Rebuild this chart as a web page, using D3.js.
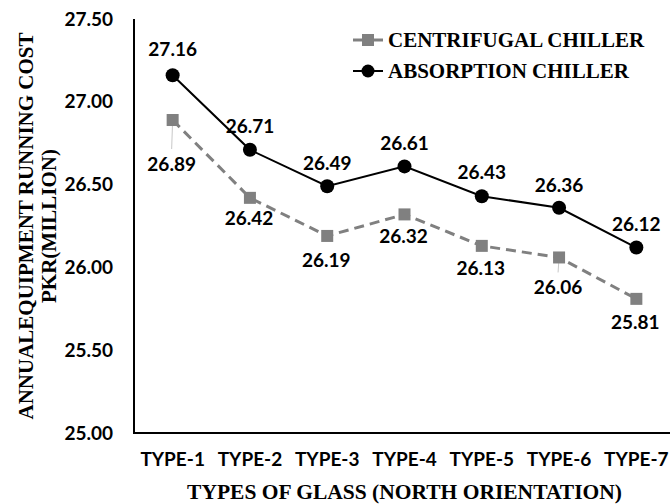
<!DOCTYPE html>
<html>
<head>
<meta charset="utf-8">
<script src="https://cdn.jsdelivr.net/npm/d3@7"></script>
<style>
  html, body { margin: 0; padding: 0; background: #fff; }
  svg { display: block; }
</style>
</head>
<body>
<svg id="chart" width="670" height="504"></svg>
<script>
// Glass types along the x axis
const categories = ["TYPE-1", "TYPE-2", "TYPE-3", "TYPE-4", "TYPE-5", "TYPE-6", "TYPE-7"];
// Annual equipment running cost, PKR million
const centrifugal = [26.89, 26.42, 26.19, 26.32, 26.13, 26.06, 25.81];
const absorption  = [27.16, 26.71, 26.49, 26.61, 26.43, 26.36, 26.12];
const yTicks = [25.00, 25.50, 26.00, 26.50, 27.00, 27.50];
const seriesNames = ["CENTRIFUGAL CHILLER", "ABSORPTION CHILLER"];

// label placement (px below marker for centrifugal, above for absorption)
const centrifugalLabelGap = [51, 27, 31, 29, 29, 37, 30];
const absorptionLabelGap  = [19, 17, 16, 16, 17, 16, 17];

const svg = d3.select("#chart");
const plot = { left: 134, right: 675, top: 19, bottom: 433 };

const x = d3.scaleBand().domain(categories).range([plot.left, plot.right]);
const y = d3.scaleLinear().domain([25, 27.5]).range([plot.bottom, plot.top]);
const cx = d => x(d) + x.bandwidth() / 2;

const numFont = "Lato, 'Open Sans', sans-serif";
const numSize = 19;
const serif = "'Liberation Serif', 'Times New Roman', serif";
const grey = "#808080";

// Y axis
const yAxis = d3.axisLeft(y).tickValues(yTicks).tickSize(0).tickPadding(21)
  .tickFormat(d3.format(".2f"));
const gy = svg.append("g").attr("transform", `translate(${plot.left},0)`).call(yAxis);
gy.select(".domain").attr("stroke", "#000").attr("stroke-width", 2)
  .attr("d", `M0,${plot.top}V${plot.bottom}`);
gy.selectAll("text").attr("font-family", numFont).attr("font-weight", "bold")
  .attr("font-size", numSize).attr("fill", "#000");

// X axis
const xAxis = d3.axisBottom(x).tickSize(0).tickPadding(20);
const gx = svg.append("g").attr("transform", `translate(0,${plot.bottom})`).call(xAxis);
gx.select(".domain").attr("stroke", "#000").attr("stroke-width", 2)
  .attr("d", `M${plot.left - 1},0H${plot.right}`);
gx.selectAll("text").attr("font-family", numFont).attr("font-weight", "bold")
  .attr("font-size", numSize).attr("fill", "#000");

// Axis titles
svg.append("text").attr("x", (plot.left + plot.right) / 2).attr("y", 499)
  .attr("text-anchor", "middle").attr("font-family", serif).attr("font-weight", "bold")
  .attr("font-size", 21.5).text("TYPES OF GLASS (NORTH ORIENTATION)");

const yMid = (plot.top + plot.bottom) / 2;
svg.append("text").attr("transform", `translate(33,${yMid}) rotate(-90)`)
  .attr("text-anchor", "middle").attr("font-family", serif).attr("font-weight", "bold")
  .attr("font-size", 21).text("ANNUALEQUIPMENT RUNNING COST");
svg.append("text").attr("transform", `translate(56,${yMid}) rotate(-90)`)
  .attr("text-anchor", "middle").attr("font-family", serif).attr("font-weight", "bold")
  .attr("font-size", 21).text("PKR(MILLION)");

const line = d3.line().x((d, i) => cx(categories[i])).y(d => y(d));

// Centrifugal chiller series (grey dashed, square markers)
svg.append("path").datum(centrifugal).attr("d", line)
  .attr("fill", "none").attr("stroke", grey).attr("stroke-width", 3)
  .attr("stroke-dasharray", "10,6");

// leader lines for labels pushed away from their markers
svg.append("g").selectAll("line")
  .data(centrifugal.map((v, i) => ({ v, i })).filter(d => centrifugalLabelGap[d.i] > 34))
  .join("line")
  .attr("x1", d => cx(categories[d.i])).attr("y1", d => y(d.v))
  .attr("x2", d => cx(categories[d.i]) - 1).attr("y2", d => y(d.v) + centrifugalLabelGap[d.i] - 22)
  .attr("stroke", "#c8c8c8").attr("stroke-width", 1);

svg.append("g").selectAll("rect").data(centrifugal).join("rect")
  .attr("x", (d, i) => cx(categories[i]) - 6).attr("y", d => y(d) - 6)
  .attr("width", 12).attr("height", 12).attr("fill", grey);

svg.append("g").selectAll("text").data(centrifugal).join("text")
  .attr("x", (d, i) => cx(categories[i]) - 1)
  .attr("y", (d, i) => y(d) + centrifugalLabelGap[i])
  .attr("text-anchor", "middle").attr("font-family", numFont).attr("font-weight", "bold")
  .attr("font-size", numSize).attr("fill", "#000").text(d => d.toFixed(2));

// Absorption chiller series (black solid, circle markers)
svg.append("path").datum(absorption).attr("d", line)
  .attr("fill", "none").attr("stroke", "#000").attr("stroke-width", 2);

svg.append("g").selectAll("circle").data(absorption).join("circle")
  .attr("cx", (d, i) => cx(categories[i])).attr("cy", d => y(d)).attr("r", 7)
  .attr("fill", "#000");

svg.append("g").selectAll("text").data(absorption).join("text")
  .attr("x", (d, i) => cx(categories[i]))
  .attr("y", (d, i) => y(d) - absorptionLabelGap[i])
  .attr("text-anchor", "middle").attr("font-family", numFont).attr("font-weight", "bold")
  .attr("font-size", numSize).attr("fill", "#000").text(d => d.toFixed(2));

// Legend
const legend = svg.append("g");
const rows = [
  { name: seriesNames[0], color: grey, shape: "square", width: 3, y: 40 },
  { name: seriesNames[1], color: "#000", shape: "circle", width: 2, y: 71 }
];
rows.forEach(r => {
  legend.append("line").attr("x1", 353).attr("x2", 383).attr("y1", r.y).attr("y2", r.y)
    .attr("stroke", r.color).attr("stroke-width", r.width);
  if (r.shape === "square") {
    legend.append("rect").attr("x", 362).attr("y", r.y - 6).attr("width", 12).attr("height", 12)
      .attr("fill", r.color);
  } else {
    legend.append("circle").attr("cx", 368).attr("cy", r.y).attr("r", 6.5).attr("fill", r.color);
  }
  legend.append("text").attr("x", 388).attr("y", r.y).attr("dy", "0.35em")
    .attr("font-family", serif).attr("font-weight", "bold").attr("font-size", 21)
    .text(r.name);
});
</script>
</body>
</html>
